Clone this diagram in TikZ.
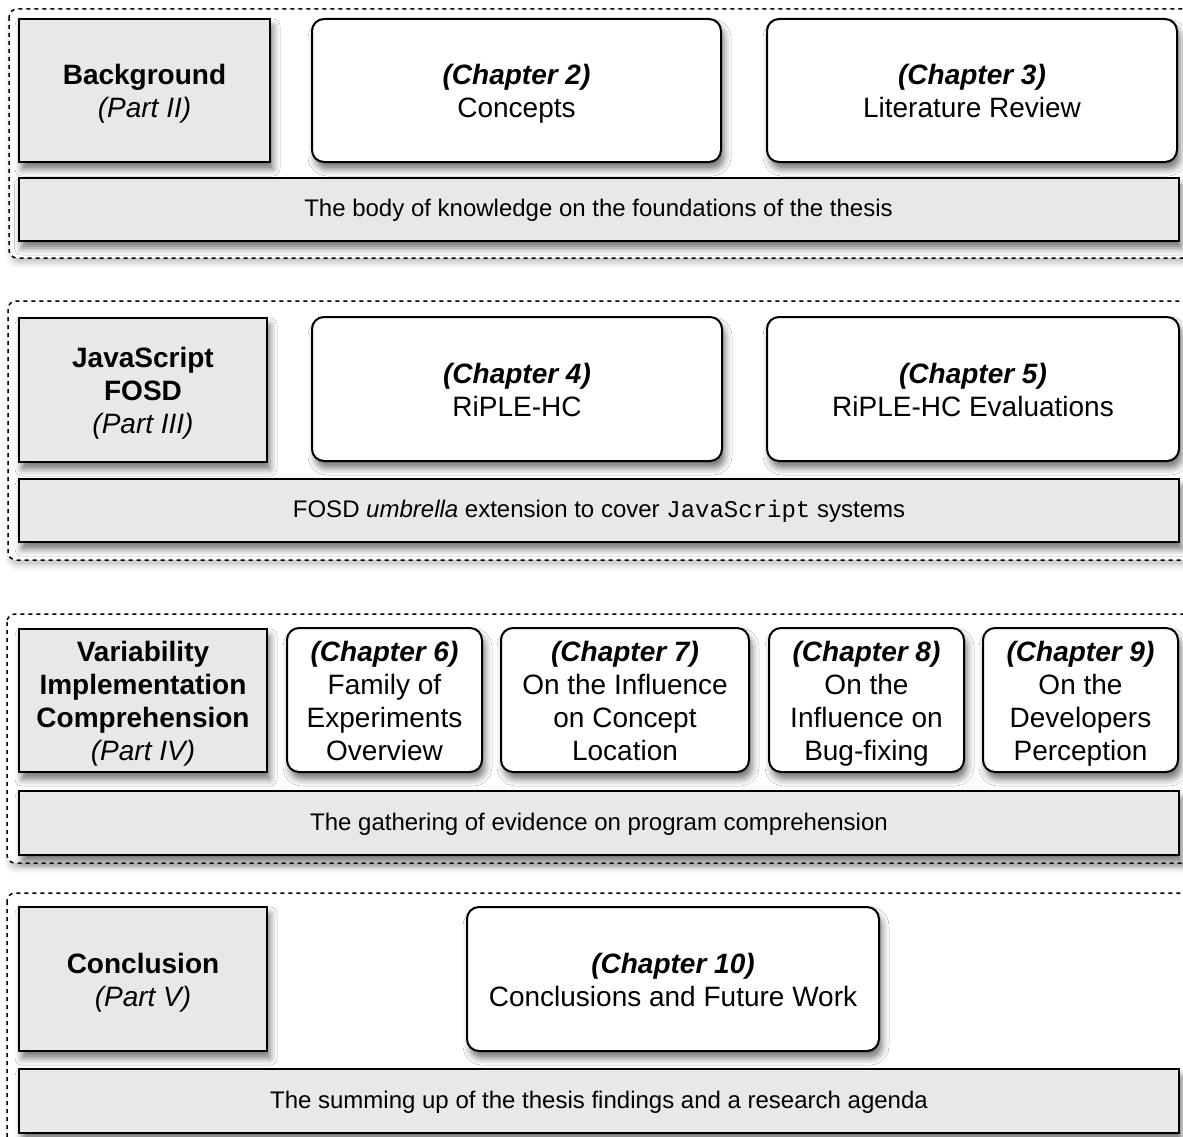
\documentclass[tikz,border=0pt]{standalone}
\usepackage{fontspec}
\setmainfont{Liberation Sans}
\setmonofont{Liberation Mono}
\usetikzlibrary{shadows.blur}

\definecolor{partgray}{RGB}{232,232,232}
\newcommand\bigtext{\fontsize{28}{33}\selectfont}
\newcommand\bartext{\fontsize{24}{29}\selectfont}
% struts that fix the first and last line of a box, slightly below centre
\newcommand\hs{\rule{0pt}{31pt}}
\newcommand\footstrut{\rule[-10pt]{0pt}{10pt}}
\newcommand\barheadstrut{\rule{0pt}{24pt}}
\newcommand\barfootstrut{\rule[-8.7pt]{0pt}{8.7pt}}

\tikzset{
  boxshadow/.style={blur shadow={shadow xshift=3pt, shadow yshift=-7pt,
      shadow blur radius=7pt, shadow opacity=55}},
  strutted/.style={execute at end node=\footstrut},
  partbox/.style={draw=black, line width=2pt, fill=partgray, boxshadow,
      align=center, font=\bigtext, inner sep=0pt, strutted},
  chapbox/.style={draw=black, line width=2pt, fill=white, rounded corners=12pt,
      boxshadow, align=center, font=\bigtext, inner sep=0pt, strutted},
  summarybar/.style={partbox, font=\bartext, minimum width=1160pt,
      execute at begin node=\barheadstrut, execute at end node=\barfootstrut},
  group/.style={draw=black, line width=1.5pt, dash pattern=on 4pt off 4pt,
      rounded corners=8pt, fill=white,
      blur shadow={shadow xshift=2pt, shadow yshift=-5pt,
      shadow blur radius=6pt, shadow opacity=25}},
}

\begin{document}
\begin{tikzpicture}[x=1pt, y=-1pt]
\useasboundingbox (0,0) rectangle (1183,1137);
\clip (0,0) rectangle (1183,1137);

% dashed groups, one per part
\draw[group] (9,9) rectangle (1200,258);
\draw[group] (8,301) rectangle (1200,560);
\draw[group] (7,614) rectangle (1200,863);
\draw[group] (7,893) rectangle (1200,1160);

% Part II
\node[partbox, minimum width=251pt, minimum height=143pt] (bg) at (144.5,90.5)
  {\hs\textbf{Background}\\\textit{(Part II)}};
\node[chapbox, minimum width=409pt, minimum height=143pt] (ch2) at (516.5,90.5)
  {\hs\textbf{\textit{(Chapter 2)}}\\Concepts};
\node[chapbox, minimum width=410pt, minimum height=143pt] (ch3) at (972,90.5)
  {\hs\textbf{\textit{(Chapter 3)}}\\Literature Review};
\node[summarybar, minimum height=63pt] (bar1) at (598.5,209.5)
  {The body of knowledge on the foundations of the thesis};

% Part III
\node[partbox, minimum width=248pt, minimum height=144pt] (js) at (143,390)
  {\hs\textbf{JavaScript}\\\textbf{FOSD}\\\textit{(Part III)}};
\node[chapbox, minimum width=410pt, minimum height=144pt] (ch4) at (517,389)
  {\hs\textbf{\textit{(Chapter 4)}}\\RiPLE-HC};
\node[chapbox, minimum width=412pt, minimum height=144pt] (ch5) at (973,389)
  {\hs\textbf{\textit{(Chapter 5)}}\\RiPLE-HC Evaluations};
\node[summarybar, minimum height=63pt] (bar2) at (599,510.5)
  {FOSD \textit{umbrella} extension to cover \texttt{JavaScript} systems};

% Part IV
\node[partbox, minimum width=248pt, minimum height=143pt] (var) at (143,700.5)
  {\hs\textbf{Variability}\\\textbf{Implementation}\\\textbf{Comprehension}\\\textit{(Part IV)}};
\node[chapbox, minimum width=195pt, minimum height=144pt] (ch6) at (384.5,700)
  {\hs\textbf{\textit{(Chapter 6)}}\\Family of\\Experiments\\Overview};
\node[chapbox, minimum width=248pt, minimum height=144pt] (ch7) at (625,700)
  {\hs\textbf{\textit{(Chapter 7)}}\\On the Influence\\on Concept\\Location};
\node[chapbox, minimum width=195pt, minimum height=144pt] (ch8) at (866.5,700)
  {\hs\textbf{\textit{(Chapter 8)}}\\On the\\Influence on\\Bug-fixing};
\node[chapbox, minimum width=195pt, minimum height=144pt] (ch9) at (1080.5,700)
  {\hs\textbf{\textit{(Chapter 9)}}\\On the\\Developers\\Perception};
\node[summarybar, minimum height=64pt] (bar3) at (599,823)
  {The gathering of evidence on program comprehension};

% Part V
\node[partbox, minimum width=248pt, minimum height=144pt] (conc) at (143,979)
  {\hs\textbf{Conclusion}\\\textit{(Part V)}};
\node[chapbox, minimum width=412pt, minimum height=144pt] (ch10) at (673,979)
  {\hs\textbf{\textit{(Chapter 10)}}\\Conclusions and Future Work};
\node[summarybar, minimum height=64pt] (bar4) at (599,1101)
  {The summing up of the thesis findings and a research agenda};
\end{tikzpicture}
\end{document}
